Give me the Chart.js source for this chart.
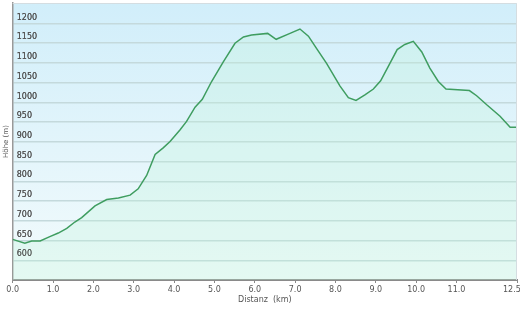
<!DOCTYPE html>
<html>
<head>
<meta charset="utf-8">
<script src="https://cdn.jsdelivr.net/npm/chart.js@4"></script>
<style>
  html, body { margin: 0; padding: 0; background: #fff; }
  #wrap { width: 520px; height: 309px; }
</style>
</head>
<body>
<div id="wrap"><canvas id="profile-chart" width="520" height="309"></canvas></div>
<script>
// distance (km) and elevation (m)
const distanz = [0, 0.30, 0.47, 0.68, 0.92, 1.13, 1.34, 1.54, 1.71, 2.04, 2.33, 2.62, 2.91, 3.11, 3.32, 3.53,
  3.73, 3.90, 4.15, 4.31, 4.52, 4.70, 4.93, 5.22, 5.51, 5.72, 5.92, 6.32, 6.53, 6.83, 7.12, 7.33, 7.53,
  7.78, 8.11, 8.32, 8.51, 8.73, 8.94, 9.12, 9.33, 9.53, 9.72, 9.93, 10.14, 10.34, 10.55, 10.74, 11.32,
  11.50, 11.75, 12.08, 12.33, 12.49];
const hoehe = [653, 643, 649, 649, 660, 669, 681, 697, 708, 738, 754, 758, 765, 781, 815, 868,
  885, 901, 931, 952, 988, 1008, 1053, 1103, 1150, 1166, 1171, 1175, 1160, 1173, 1186, 1168, 1137,
  1099, 1042, 1012, 1005, 1019, 1034, 1055, 1095, 1134, 1147, 1155, 1128, 1087, 1053, 1034, 1030,
  1017, 994, 965, 937, 937];
const xTicks = [0, 1, 2, 3, 4, 5, 6, 7, 8, 9, 10, 11, 12.5];
const yTicks = [600, 650, 700, 750, 800, 850, 900, 950, 1000, 1050, 1100, 1150, 1200];

const plotBackground = {
  id: "plotBackground",
  beforeDraw(chart) {
    const { ctx, chartArea: a } = chart;
    const g = ctx.createLinearGradient(0, a.top, 0, a.bottom);
    g.addColorStop(0, "#d1eefa");
    g.addColorStop(1, "#f3fbfc");
    ctx.save();
    ctx.fillStyle = g;
    ctx.fillRect(a.left, a.top, a.right - a.left, a.bottom - a.top);
    ctx.restore();
  },
  afterDatasetsDraw(chart) {
    // y labels sit on top of the filled area
    chart.scales.y.drawLabels(chart.chartArea);
  },
  afterDraw(chart) {
    const { ctx, chartArea: a } = chart;
    ctx.save();
    ctx.strokeStyle = "#d4dde1";
    ctx.lineWidth = 1;
    ctx.beginPath();
    ctx.moveTo(a.left, a.top + 0.5);
    ctx.lineTo(a.right - 0.5, a.top + 0.5);
    ctx.lineTo(a.right - 0.5, a.bottom);
    ctx.stroke();
    ctx.restore();
  },
};

// no extra room for labels that overhang the plot
const noOverhang = (scale) => {
  scale.paddingLeft = 0;
  scale.paddingRight = 0;
  scale.paddingTop = 0;
  scale.paddingBottom = 0;
};

const profileChart = document.getElementById("profile-chart");
new Chart(profileChart, {
  type: "line",
  data: {
    datasets: [
      {
        data: distanz.map((d, i) => ({ x: d, y: hoehe[i] })),
        borderColor: "#3f9d60",
        borderWidth: 1.5,
        pointRadius: 0,
        tension: 0,
        fill: "start",
        backgroundColor: "rgba(190, 245, 215, 0.28)",
      },
    ],
  },
  options: {
    responsive: false,
    animation: false,
    layout: { padding: { top: 3, right: 3, left: 0, bottom: 0 } },
    plugins: { legend: { display: false }, tooltip: { enabled: false } },
    scales: {
      x: {
        type: "linear",
        min: 0,
        max: 12.5,
        afterBuildTicks: (scale) => { scale.ticks = xTicks.map((v) => ({ value: v })); },
        afterFit: (scale) => { scale.height = 29; noOverhang(scale); },
        grid: { drawOnChartArea: false, tickLength: 3, color: "#888" },
        border: { color: "#8a8a8a", width: 2 },
        ticks: {
          padding: 2,
          maxRotation: 0,
          autoSkip: false,
          color: "#555",
          font: { family: "DejaVu Sans", size: 8 },
          callback: (v) => (v === 12.5 ? "12.5    " : Number(v).toFixed(1)),
        },
        title: {
          display: true,
          text: "Distanz  (km)",
          color: "#555",
          font: { family: "DejaVu Sans", size: 8 },
          padding: { top: 0, bottom: 4 },
        },
      },
      y: {
        min: 550,
        max: 1252,
        afterBuildTicks: (scale) => { scale.ticks = yTicks.map((v) => ({ value: v })); },
        afterFit: (scale) => { scale.width = 12.7; noOverhang(scale); },
        grid: { color: "#c4d9dc", lineWidth: 1.5, drawTicks: false },
        border: { color: "#999", width: 1.5 },
        ticks: {
          mirror: true,
          padding: 4,
          labelOffset: -6,
          color: "#555",
          font: { family: "DejaVu Sans", size: 8 },
          callback: (v) => String(v),
        },
        title: {
          display: true,
          text: "Höhe (m)",
          color: "#555",
          font: { family: "DejaVu Sans", size: 7 },
          padding: { top: 2, bottom: 0 },
        },
      },
    },
  },
  plugins: [plotBackground],
});
</script>
</body>
</html>
